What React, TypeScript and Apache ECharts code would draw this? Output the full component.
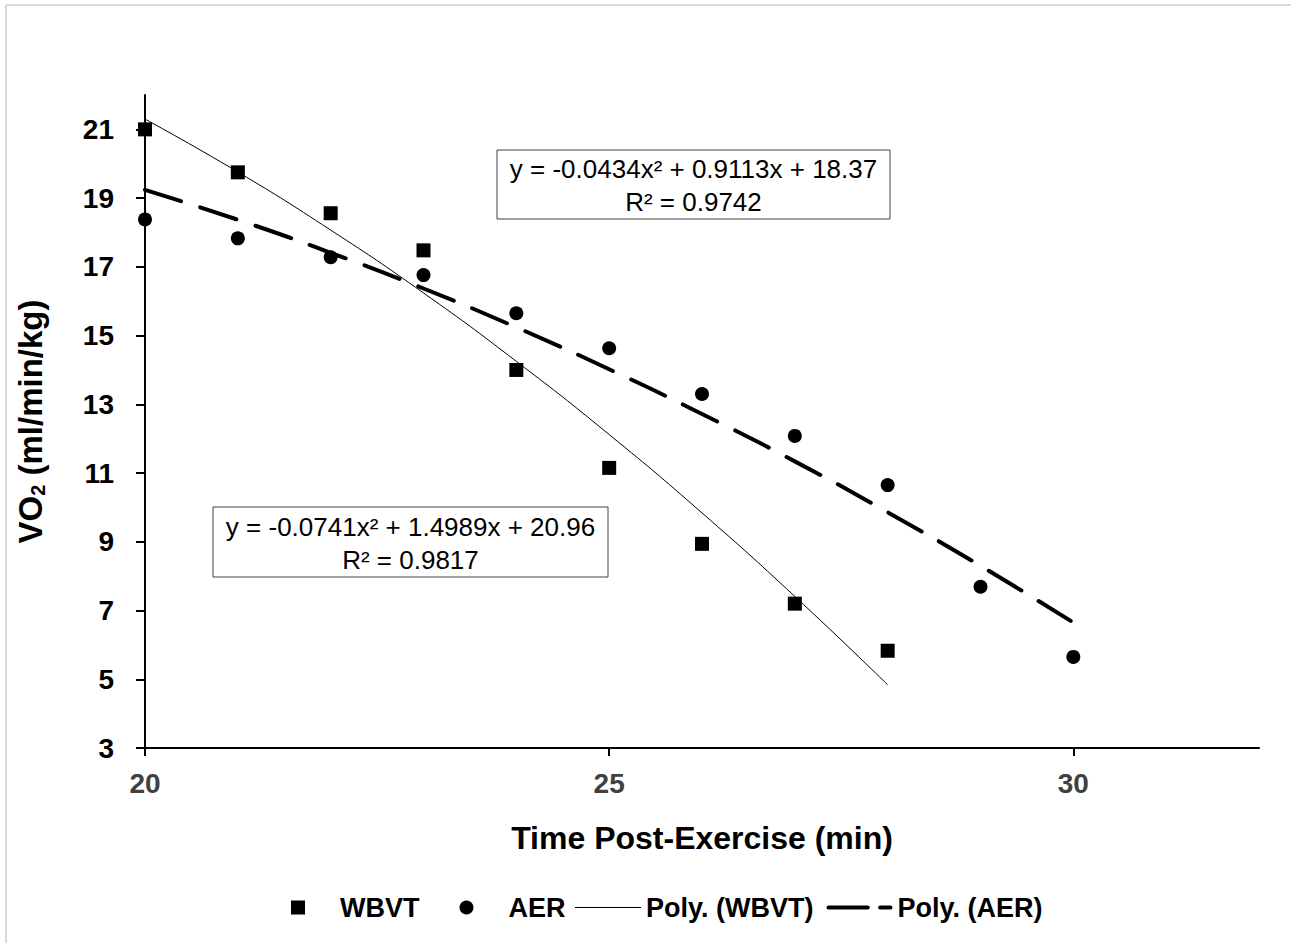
import React, { useEffect, useRef } from "react";
import * as echarts from "echarts";

// Data
const timeWBVT = [20, 21, 22, 23, 24, 25, 26, 27, 28];
const wbvtValues = [21.0, 19.75, 18.56, 17.48, 14.0, 11.15, 8.94, 7.2, 5.83];
const timeAER = [20, 21, 22, 23, 24, 25, 26, 27, 28, 29, 30];
const aerValues = [18.38, 17.83, 17.28, 16.76, 15.65, 14.63, 13.3, 12.08, 10.65, 7.69, 5.65];
// Polynomial trendline values
const wbvtTrend = [21.3, 19.76, 18.07, 16.24, 14.25, 12.12, 9.84, 7.41, 4.84];
const aerTrend = [19.24, 18.37, 17.41, 16.37, 15.24, 14.02, 12.72, 11.34, 9.86, 8.3, 6.65];

const xTicks = [20, 25, 30];
const yTicks = [3, 5, 7, 9, 11, 13, 15, 17, 19, 21];

const eqAER = ["y = -0.0434x² + 0.9113x + 18.37", "R² = 0.9742"];
const eqWBVT = ["y = -0.0741x² + 1.4989x + 20.96", "R² = 0.9817"];

const FONT = "'Liberation Sans', Arial, sans-serif";

export default function App() {
  const ref = useRef<HTMLDivElement>(null);
  useEffect(() => {
    if (!ref.current) return;
    const chart = echarts.init(ref.current, undefined, { renderer: "svg" });
    const pair = (xs: number[], ys: number[]) => xs.map((x, i) => [x, ys[i]]);
    const box = (x: number, y: number, w: number, h: number, lines: string[]) => ({
      type: "group",
      x,
      y,
      children: [
        { type: "rect", shape: { x: 0, y: 0, width: w, height: h }, style: { fill: "#fff", stroke: "#404040", lineWidth: 1 } },
        {
          type: "text",
          x: w / 2,
          y: h / 2 + 1,
          style: {
            text: lines.join("\n"),
            font: `26px ${FONT}`,
            fill: "#000",
            align: "center",
            verticalAlign: "middle",
            lineHeight: 33,
          },
        },
      ],
    });
    const legendText = { fontSize: 27, fontWeight: "bold", color: "#000", fontFamily: FONT };
    chart.setOption({
      animation: false,
      backgroundColor: "#fff",
      textStyle: { fontFamily: FONT },
      grid: { left: 145, top: 95, right: 32, bottom: 195, containLabel: false },
      xAxis: {
        type: "value",
        min: 20,
        max: 32,
        interval: 5,
        name: "Time Post-Exercise (min)",
        nameLocation: "middle",
        nameGap: 74,
        nameTextStyle: { fontSize: 32, fontWeight: "bold", color: "#000", fontFamily: FONT },
        axisLine: { lineStyle: { color: "#000", width: 2 } },
        axisTick: { show: true, length: 8, lineStyle: { color: "#000", width: 2 }, customValues: xTicks },
        axisLabel: { customValues: xTicks, fontSize: 28, fontWeight: "bold", color: "#404040", margin: 21, fontFamily: FONT },
        splitLine: { show: false },
      },
      yAxis: {
        type: "value",
        min: 3,
        max: 22,
        interval: 2,
        name: "VO{sub|2} (ml/min/kg)",
        nameLocation: "middle",
        nameRotate: 90,
        nameGap: 97,
        nameTextStyle: {
          fontSize: 33,
          fontWeight: "bold",
          color: "#000",
          fontFamily: FONT,
          rich: {
            sub: { fontSize: 20, fontWeight: "bold", color: "#000", fontFamily: FONT, verticalAlign: "bottom", padding: [16, 0, 0, 0] },
          },
        },
        axisLine: { onZero: false, lineStyle: { color: "#000", width: 2 } },
        axisTick: { show: true, length: 9, lineStyle: { color: "#000", width: 2 }, customValues: yTicks },
        axisLabel: { customValues: yTicks, fontSize: 28, fontWeight: "bold", color: "#000", margin: 31, fontFamily: FONT },
        splitLine: { show: false },
      },
      legend: [
        {
          left: 291,
          top: 894,
          padding: 0,
          itemWidth: 14,
          itemHeight: 14,
          itemGap: 40,
          textStyle: { ...legendText, padding: [0, 0, 0, 30] },
          data: [
            { name: "WBVT", icon: "rect" },
            { name: "AER", icon: "circle" },
          ],
        },
        {
          left: 575,
          top: 894,
          padding: 0,
          itemWidth: 66,
          itemHeight: 14,
          itemGap: 13,
          symbolKeepAspect: true,
          textStyle: legendText,
          data: [
            { name: "Poly. (WBVT)", icon: "path://M0,0h66v1.2h-66z", itemStyle: { color: "#000" } },
            { name: "Poly. (AER)", icon: "path://M2,0h38a2,2 0 0 1 0,4h-38a2,2 0 0 1 0,-4zM52,0h10a2,2 0 0 1 0,4h-10a2,2 0 0 1 0,-4z", itemStyle: { color: "#000" } },
          ],
        },
      ],
      series: [
        {
          name: "Poly. (WBVT)",
          type: "line",
          data: pair(timeWBVT, wbvtTrend),
          smooth: true,
          showSymbol: false,
          symbol: "none",
          lineStyle: { color: "#000", width: 1 },
          itemStyle: { color: "#000" },
          z: 2,
        },
        {
          name: "Poly. (AER)",
          type: "line",
          data: pair(timeAER, aerTrend),
          smooth: true,
          showSymbol: false,
          symbol: "none",
          lineStyle: { color: "#000", width: 4, type: [38, 20], cap: "round" },
          itemStyle: { color: "#000" },
          z: 2,
        },
        {
          name: "WBVT",
          type: "scatter",
          data: pair(timeWBVT, wbvtValues),
          symbol: "rect",
          symbolSize: 14,
          itemStyle: { color: "#000", opacity: 1 },
          z: 3,
        },
        {
          name: "AER",
          type: "scatter",
          data: pair(timeAER, aerValues),
          symbol: "circle",
          symbolSize: 14,
          itemStyle: { color: "#000", opacity: 1 },
          z: 3,
        },
      ],
      graphic: [
        { type: "line", shape: { x1: 6, y1: 5, x2: 1291, y2: 5 }, style: { stroke: "#d9d9d9", lineWidth: 2 }, silent: true, z: -10 },
        { type: "line", shape: { x1: 6, y1: 5, x2: 6, y2: 943 }, style: { stroke: "#d9d9d9", lineWidth: 2 }, silent: true, z: -10 },
        box(497, 150, 393, 69, eqAER),
        box(213, 507, 395, 70, eqWBVT),
      ],
    });
    return () => chart.dispose();
  }, []);
  return <div ref={ref} style={{ position: "fixed", left: 0, top: 0, width: 1291, height: 943 }} />;
}
